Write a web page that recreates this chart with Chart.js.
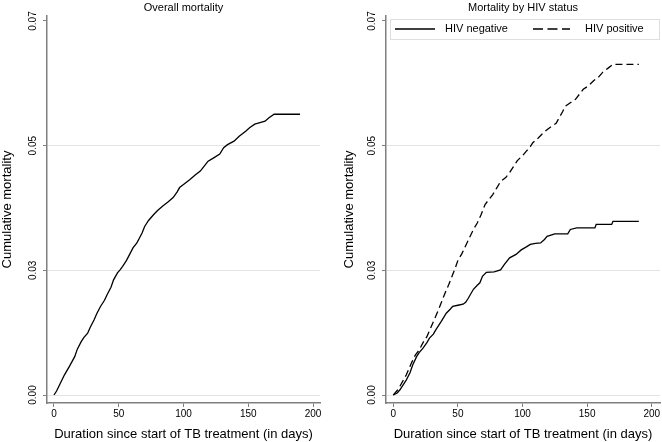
<!DOCTYPE html>
<html>
<head>
<meta charset="utf-8">
<script src="https://cdn.jsdelivr.net/npm/chart.js@4.4.1/dist/chart.umd.min.js"></script>
<style>
  html, body { margin: 0; padding: 0; background: #fff; }
  #wrap { position: relative; width: 662px; height: 442px; }
  .panel { position: absolute; top: 0; width: 331px; height: 442px; }
  #p1 { left: 0; }
  #p2 { left: 331px; }
</style>
</head>
<body>
<div id="wrap">
  <div class="panel" id="p1"><canvas id="c1" width="331" height="442"></canvas></div>
  <div class="panel" id="p2"><canvas id="c2" width="331" height="442"></canvas></div>
</div>
<script>
// ---- data ----
const xTicks = [0, 50, 100, 150, 200];
const yTicks = [0, 0.025, 0.05, 0.075];
const yTickLabels = ['0.00', '0.03', '0.05', '0.07'];

const overallDays = [0,2,5,8,12,16,18,21,23,26,28,31,33,36,39,41,44,46,49,51,53,56,59,61,64,66,68,70,73,77,80,84,88,92,95,97,101,105,109,113,116,119,123,128,131,134,139,143,148,151,155,159,163,166,170,190];
const overallValues = [0,0.0008,0.0024,0.0040,0.0058,0.0077,0.0092,0.0107,0.0115,0.0124,0.0136,0.0151,0.0163,0.0178,0.0190,0.0201,0.0216,0.0231,0.0245,0.0251,0.0258,0.0270,0.0285,0.0295,0.0305,0.0315,0.0325,0.0338,0.0350,0.0362,0.0370,0.0379,0.0387,0.0396,0.0407,0.0416,0.0424,0.0432,0.0441,0.0449,0.0459,0.0469,0.0475,0.0483,0.0496,0.0502,0.0509,0.0519,0.0529,0.0536,0.0543,0.0546,0.0549,0.0556,0.0563,0.0563];

const negDays = [0,3,5,10,13,15,18,20,23,26,28,31,33,37,41,44,46,50,54,56,58,62,65,67,69,72,78,83,86,90,95,99,103,106,110,114,117,119,125,135,137,142,156,157,169,170,190];
const negValues = [0,0.0004,0.0010,0.0030,0.0045,0.0060,0.0077,0.0085,0.0094,0.0105,0.0114,0.0122,0.0131,0.0147,0.0164,0.0172,0.0178,0.0180,0.0182,0.0186,0.0194,0.0212,0.0220,0.0225,0.0238,0.0246,0.0247,0.0251,0.0262,0.0275,0.0282,0.0291,0.0297,0.0302,0.0304,0.0305,0.0312,0.0318,0.0323,0.0323,0.0332,0.0335,0.0335,0.0342,0.0342,0.0348,0.0348];

const posDays = [0,3,5,10,14,17,20,23,26,31,35,40,43,48,50,53,57,62,65,68,71,74,77,80,83,87,90,93,96,100,103,106,108,112,115,118,121,126,129,131,133,137,141,144,147,151,155,159,162,166,170,190];
const posValues = [0,0.0009,0.0017,0.0040,0.0064,0.0080,0.0090,0.0105,0.0117,0.0147,0.0171,0.0204,0.0222,0.0255,0.0270,0.0283,0.0305,0.0332,0.0345,0.0362,0.0382,0.0392,0.0402,0.0415,0.0428,0.0436,0.0446,0.0458,0.0470,0.0480,0.0489,0.0498,0.0506,0.0515,0.0523,0.0530,0.0536,0.0545,0.0559,0.0568,0.0579,0.0586,0.0593,0.0603,0.0613,0.0620,0.0630,0.0638,0.0647,0.0655,0.0663,0.0663];

const titles = ['Overall mortality', 'Mortality by HIV status'];
const seriesLabels = ['HIV negative', 'HIV positive'];
const xTitle = 'Duration since start of TB treatment (in days)';
const yTitle = 'Cumulative mortality';

// ---- helpers ----
const toXY = (xs, ys) => xs.map((x, i) => ({ x: x, y: ys[i] }));
Chart.defaults.font.family = '"Liberation Sans", Arial, Helvetica, sans-serif';
Chart.defaults.color = '#000';

const AXIS = '#7f7f7f';
const GRID = '#e3e3e3';

function makeOptions(cfg) {
  return {
    responsive: false,
    animation: false,
    events: [],
    layout: { padding: cfg.padding },
    plugins: {
      legend: { display: false },
      tooltip: { enabled: false },
      title: {
        display: true,
        text: cfg.title,
        fullSize: false,
        color: '#000',
        font: { size: 11, weight: 'normal' },
        padding: { top: 1, bottom: 1.8 }
      }
    },
    scales: {
      x: {
        type: 'linear',
        bounds: 'data',
        min: cfg.xMin,
        max: cfg.xMax,
        afterBuildTicks: s => { s.ticks = xTicks.map(v => ({ value: v })); },
        afterFit: s => { s.height = 39; },
        grid: { drawOnChartArea: false, tickLength: 4, tickColor: AXIS, tickWidth: 1 },
        border: { color: AXIS, width: 1.5 },
        ticks: { padding: 1, font: { size: 10 }, color: '#000', autoSkip: false, maxRotation: 0,
                 callback: v => String(v) },
        title: { display: true, text: xTitle, color: '#000', font: { size: 13 }, padding: { top: 0, bottom: 0 } }
      },
      y: {
        type: 'linear',
        bounds: 'data',
        min: -0.0016,
        max: 0.0760,
        afterBuildTicks: s => { s.ticks = yTicks.map(v => ({ value: v })); },
        afterFit: s => { s.width = cfg.yWidth; },
        grid: {
          color: c => (c.tick && c.tick.value === 0.075) ? 'rgba(0,0,0,0)' : GRID,
          lineWidth: 1,
          tickLength: 4,
          tickColor: AXIS
        },
        border: { color: AXIS, width: 1.5 },
        ticks: {
          padding: 0,
          minRotation: 90,
          maxRotation: 90,
          crossAlign: 'center',
          autoSkip: false,
          font: { size: 10 },
          color: '#000',
          callback: (v, i) => yTickLabels[i]
        },
        title: { display: true, text: yTitle, color: '#000', font: { size: 13 }, padding: { top: 0, bottom: 0 } }
      }
    }
  };
}

const insideLegend = {
  id: 'insideLegend',
  afterDraw(chart) {
    const ctx = chart.ctx;
    const area = chart.chartArea;
    const x0 = area.left + 4, y0 = area.top + 3, x1 = area.right, h = 20;
    const yc = y0 + h / 2;
    ctx.save();
    ctx.fillStyle = '#fff';
    ctx.fillRect(x0, y0, x1 - x0, h);
    ctx.strokeStyle = '#dedede';
    ctx.lineWidth = 1;
    ctx.strokeRect(x0 + 0.5, y0 + 0.5, x1 - x0 - 1, h);
    const items = [
      { ds: chart.data.datasets[0], sx: x0 + 5, ex: x0 + 45, tx: x0 + 55, dash: [] },
      { ds: chart.data.datasets[1], sx: x0 + 143, ex: x0 + 180, tx: x0 + 195, dash: [10, 4.5] }
    ];
    ctx.font = '11px "Liberation Sans", Arial, sans-serif';
    ctx.textBaseline = 'middle';
    ctx.textAlign = 'left';
    items.forEach(it => {
      ctx.beginPath();
      ctx.setLineDash(it.dash);
      ctx.strokeStyle = it.ds.borderColor;
      ctx.lineWidth = it.ds.borderWidth;
      ctx.moveTo(it.sx, yc);
      ctx.lineTo(it.ex, yc);
      ctx.stroke();
      ctx.setLineDash([]);
      ctx.fillStyle = '#000';
      ctx.fillText(it.ds.label, it.tx, yc);
    });
    ctx.restore();
  }
};

new Chart(document.getElementById('c1'), {
  type: 'line',
  data: {
    datasets: [{
      label: 'Overall',
      data: toXY(overallDays, overallValues),
      borderColor: '#000',
      borderWidth: 1.3,
      pointRadius: 0,
      fill: false,
      tension: 0
    }]
  },
  options: makeOptions({
    title: titles[0],
    padding: { left: 0, right: 11, top: 0, bottom: 0 },
    xMin: -5.4, xMax: 205.4,
    yWidth: 47
  })
});

new Chart(document.getElementById('c2'), {
  type: 'line',
  data: {
    datasets: [{
      label: seriesLabels[0],
      data: toXY(negDays, negValues),
      borderColor: '#000',
      borderWidth: 1.3,
      pointRadius: 0,
      fill: false,
      tension: 0
    }, {
      label: seriesLabels[1],
      data: toXY(posDays, posValues),
      borderColor: '#000',
      borderWidth: 1.3,
      borderDash: [7, 4],
      pointRadius: 0,
      fill: false,
      tension: 0
    }]
  },
  options: makeOptions({
    title: titles[1],
    padding: { left: 11, right: 2, top: 0, bottom: 0 },
    xMin: -5.65, xMax: 206.4,
    yWidth: 44
  }),
  plugins: [insideLegend]
});
</script>
</body>
</html>
